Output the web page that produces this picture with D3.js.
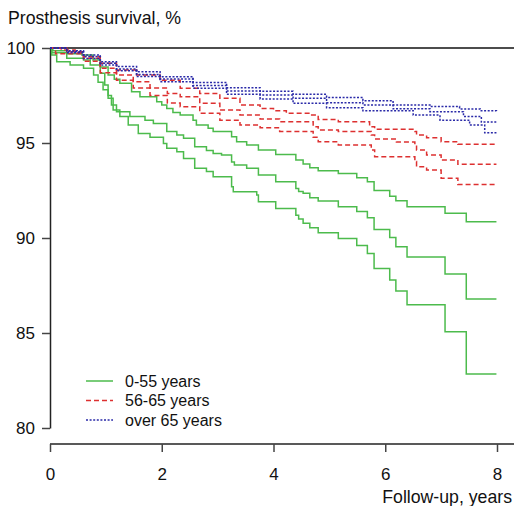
<!DOCTYPE html>
<html>
<head>
<meta charset="utf-8">
<script src="https://cdn.jsdelivr.net/npm/d3@7"></script>
<style>
  body { margin: 0; background: #fff; }
  text { font-family: "Liberation Sans", Arial, sans-serif; fill: #111; }
</style>
</head>
<body>
<div id="chart"></div>
<script>
// survival estimates: [years, survival %]
var youngUpper = [[0,100],[0.05,99.85],[0.3,99.7],[0.57,99.63],[0.77,99.37],[0.9,99.0],[1.04,98.58],[1.15,98.35],[1.25,98.15],[1.46,97.7],[1.61,97.44],[1.91,97.17],[2.0,97.0],[2.09,96.82],[2.2,96.6],[2.33,96.47],[2.56,96.2],[2.62,95.95],[2.83,95.77],[2.92,95.6],[3.25,95.33],[3.34,95.07],[3.52,94.9],[3.73,94.63],[4.04,94.4],[4.4,94.1],[4.53,93.9],[4.65,93.7],[4.8,93.54],[5.16,93.4],[5.49,93.17],[5.68,92.96],[5.8,92.5],[6.08,92.2],[6.19,91.96],[6.39,91.65],[7.07,91.3],[7.45,90.86],[7.99,90.86]];
var youngMid = [[0,100],[0.03,99.75],[0.3,99.46],[0.6,99.37],[0.72,99.1],[0.9,98.67],[0.98,98.05],[1.04,97.5],[1.1,97.0],[1.19,96.65],[1.43,96.4],[1.7,96.2],[1.85,96.03],[2.09,95.6],[2.27,95.42],[2.39,95.25],[2.59,94.8],[2.8,94.6],[2.92,94.45],[3.07,94.37],[3.25,94.0],[3.3,93.84],[3.52,93.67],[3.73,93.32],[4.04,92.96],[4.4,92.6],[4.45,92.45],[4.53,92.35],[4.65,92.12],[4.8,91.95],[5.16,91.65],[5.49,91.39],[5.68,91.07],[5.8,90.45],[6.08,90.02],[6.19,89.54],[6.39,89.0],[7.07,88.1],[7.45,86.79],[7.99,86.79]];
var youngLower = [[0,100],[0.03,99.63],[0.12,99.28],[0.36,99.1],[0.6,98.93],[0.78,98.58],[0.86,98.2],[0.95,97.8],[1.04,97.35],[1.13,96.74],[1.25,96.4],[1.4,95.95],[1.58,95.5],[1.79,95.3],[2.03,94.98],[2.09,94.72],[2.27,94.54],[2.39,94.19],[2.59,93.67],[2.8,93.5],[2.92,93.23],[3.25,92.7],[3.28,92.44],[3.7,92.26],[3.73,91.91],[4.04,91.55],[4.4,91.2],[4.45,91.0],[4.53,90.77],[4.65,90.54],[4.8,90.28],[5.16,89.98],[5.49,89.6],[5.68,89.19],[5.8,88.39],[6.08,87.79],[6.19,87.21],[6.39,86.49],[7.07,85.07],[7.45,82.84],[7.99,82.84]];

var midUpper = [[0,100],[0.2,99.9],[0.45,99.75],[0.6,99.54],[0.9,99.2],[1.19,98.84],[1.55,98.58],[1.97,98.3],[2.33,97.88],[2.68,97.6],[3.04,97.35],[3.4,97.0],[3.76,96.82],[4.0,96.7],[4.23,96.56],[4.65,96.47],[4.8,96.24],[5.16,96.12],[5.72,95.86],[5.81,95.72],[6.53,95.6],[6.56,95.42],[6.74,95.28],[7.0,95.07],[7.3,94.93],[7.99,94.93]];
var midMid = [[0,100],[0.3,99.8],[0.6,99.46],[0.9,98.93],[1.19,98.58],[1.49,98.23],[1.79,97.9],[2.1,97.6],[2.33,97.44],[2.68,97.09],[3.04,96.74],[3.4,96.47],[3.76,96.26],[4.11,96.12],[4.71,95.86],[4.8,95.68],[5.16,95.6],[5.75,95.42],[5.81,95.21],[6.2,95.05],[6.53,94.9],[6.56,94.63],[6.74,94.37],[7.0,94.1],[7.3,93.88],[7.99,93.88]];
var midLower = [[0,100],[0.1,99.7],[0.6,99.3],[0.9,98.7],[1.19,98.3],[1.49,97.9],[1.79,97.5],[2.1,97.1],[2.33,96.91],[2.68,96.56],[3.04,96.2],[3.4,95.95],[3.76,95.8],[4.11,95.6],[4.71,95.3],[4.8,95.07],[5.16,94.9],[5.75,94.63],[5.81,94.28],[6.53,94.02],[6.56,93.75],[6.74,93.58],[7.0,93.14],[7.3,92.82],[7.99,92.82]];

var oldUpper = [[0,100],[0.3,99.85],[0.6,99.63],[0.9,99.28],[1.19,99.02],[1.55,98.75],[1.97,98.49],[2.56,98.19],[3.16,97.91],[3.76,97.72],[4.35,97.56],[4.95,97.4],[5.6,97.23],[6.14,97.0],[6.8,96.92],[7.33,96.79],[7.7,96.7],[7.99,96.68]];
var oldMid = [[0,100],[0.3,99.8],[0.6,99.55],[0.9,99.2],[1.19,98.9],[1.55,98.6],[1.97,98.37],[2.56,98.02],[3.16,97.74],[3.76,97.53],[4.35,97.35],[4.95,97.12],[5.6,97.0],[6.14,96.8],[6.8,96.65],[7.4,96.4],[7.72,96.1],[7.99,96.08]];
var oldLower = [[0,100],[0.3,99.75],[0.6,99.45],[0.9,99.1],[1.19,98.8],[1.55,98.5],[1.97,98.23],[2.56,97.88],[3.16,97.56],[3.76,97.32],[4.35,97.09],[4.95,96.86],[5.6,96.7],[6.5,96.47],[6.98,96.2],[7.51,95.95],[7.78,95.54],[7.99,95.54]];

var groupNames = ["0-55 years", "56-65 years", "over 65 years"];
var groupColors = ["#4cbb4c", "#dd3030", "#2a2aa8"];
var groupDash = [null, "5,3", "2,1.6"];
var xTicks = [0, 2, 4, 6, 8];
var yTicks = [80, 85, 90, 95, 100];

var groups = [
  [youngUpper, youngMid, youngLower],
  [midUpper, midMid, midLower],
  [oldUpper, oldMid, oldLower]
];

var width = 514, height = 506;

var svg = d3.select("#chart")
  .append("svg")
  .attr("width", width)
  .attr("height", height);

var x = d3.scaleLinear().domain([0, 8]).range([50, 497]);
var y = d3.scaleLinear().domain([80, 100]).range([428, 48]);

// y axis
var yAxis = svg.append("g")
  .attr("transform", "translate(50,0)")
  .call(d3.axisLeft(y).tickValues(yTicks).tickSize(8).tickPadding(7).tickSizeOuter(0));
yAxis.select(".domain").attr("stroke", "#222").attr("stroke-width", 1.5);
yAxis.selectAll(".tick line").attr("stroke", "#444").attr("stroke-width", 1.5);
yAxis.selectAll("text").style("font-size", "17px").attr("fill", "#111");

// x axis, drawn a little below the lowest y value
var xAxis = svg.append("g")
  .attr("transform", "translate(0,444)")
  .call(d3.axisBottom(x).tickValues(xTicks).tickSize(8).tickPadding(16).tickSizeOuter(0));
xAxis.select(".domain").attr("d", "M50,0H514").attr("stroke", "#222").attr("stroke-width", 1.5);
xAxis.selectAll(".tick line").attr("stroke", "#444").attr("stroke-width", 1.5);
xAxis.selectAll("text").style("font-size", "17px").attr("fill", "#111");

// 100% reference line across the top
svg.append("line")
  .attr("x1", 50).attr("x2", width)
  .attr("y1", y(100)).attr("y2", y(100))
  .attr("stroke", "#111")
  .attr("stroke-width", 1.5);

var line = d3.line()
  .x(d => x(d[0]))
  .y(d => y(d[1]))
  .curve(d3.curveStepAfter);

groups.forEach((curves, i) => {
  svg.append("g")
    .selectAll("path")
    .data(curves)
    .enter()
    .append("path")
    .attr("d", line)
    .attr("fill", "none")
    .attr("stroke", groupColors[i])
    .attr("stroke-width", 1.5)
    .attr("stroke-dasharray", groupDash[i]);
});

// legend
var legend = svg.append("g").attr("transform", "translate(86,381)");
groupNames.forEach((name, i) => {
  var row = legend.append("g").attr("transform", `translate(0, ${i * 19.5})`);
  row.append("line")
    .attr("x1", 0).attr("x2", 27)
    .attr("stroke", groupColors[i])
    .attr("stroke-width", 1.5)
    .attr("stroke-dasharray", groupDash[i]);
  row.append("text")
    .attr("x", 39)
    .attr("dy", "0.35em")
    .style("font-size", "16px")
    .text(name);
});

svg.append("text")
  .attr("x", 8)
  .attr("y", 24)
  .style("font-size", "17.7px")
  .text("Prosthesis survival, %");

svg.append("text")
  .attr("x", 512)
  .attr("y", 503)
  .attr("text-anchor", "end")
  .style("font-size", "17.7px")
  .text("Follow-up, years");
</script>
</body>
</html>
